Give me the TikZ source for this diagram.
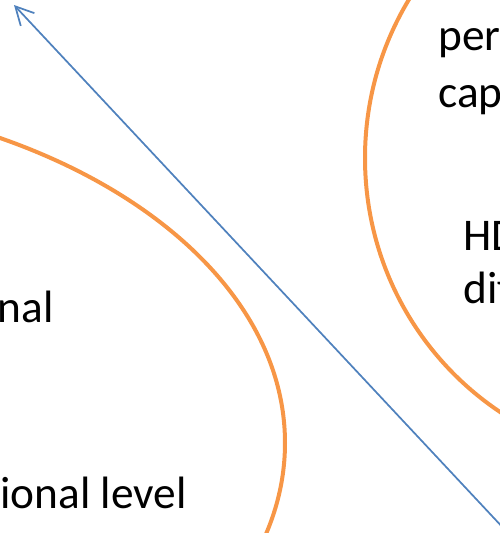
\documentclass[tikz,border=0pt]{standalone}
\usepackage{fontspec}
\setmainfont{Carlito}
\usetikzlibrary{arrows.meta}
\definecolor{ringorange}{RGB}{247,150,70}
\definecolor{axisblue}{RGB}{79,129,189}
\begin{document}
\begin{tikzpicture}[x=0.75pt, y=-0.75pt,
    word/.style={font=\fontsize{34}{41}\selectfont, inner sep=0pt}]

    \useasboundingbox (0,0) rectangle (500,533);

    % Draw the outlines of the two rings
    \draw[ringorange, line width=3pt] (-265,443) ellipse [x radius=412.5pt, y radius=261pt];
    \draw[ringorange, line width=3pt] (665,158) ellipse [x radius=225pt, y radius=228pt];

    % Draw the axis
    \coordinate (axis-tail) at (507,532);
    \coordinate (axis-head) at (14,5);
    \draw[axisblue, line width=1.3pt, -{Straight Barb[length=13.5pt, width=14pt]}] (axis-tail) -- (axis-head);

    % Label the rings
    \node[word, anchor=base west] (per) at (438,50) {per};
    \node[word, anchor=base west] (cap) at (438,107) {cap};
    \node[word, anchor=base west] (hd) at (463,250) {HD};
    \node[word, anchor=base west] (dif) at (463,303) {dif};
    \node[word, anchor=base east] (nal) at (54,322) {nal};
    \node[word, anchor=base east] (level) at (187,508) {ional level};
\end{tikzpicture}
\end{document}
